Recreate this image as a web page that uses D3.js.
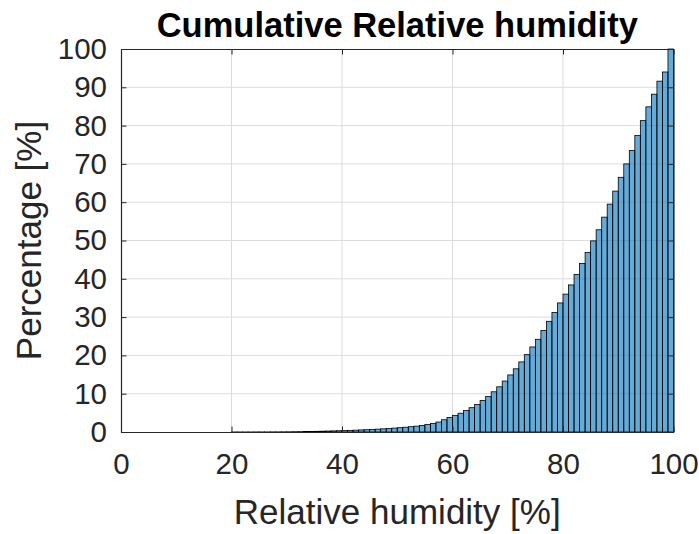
<!DOCTYPE html>
<html>
<head>
<meta charset="utf-8">
<script src="https://cdn.jsdelivr.net/npm/d3@7"></script>
<style>
  body { margin: 0; background: #fff; }
  text { font-family: "Liberation Sans", Arial, Helvetica, sans-serif; fill: #262626; }
</style>
</head>
<body>
<div id="chart"></div>
<script>
// cumulative histogram of relative humidity, one bin per percent
var binStart = d3.range(0, 100);   // left edge of each bin [%]
var cumPercent = [
  0, 0, 0, 0, 0, 0, 0, 0, 0, 0,
  0, 0, 0, 0, 0, 0, 0, 0, 0, 0,
  0.01, 0.01, 0.01, 0.01, 0.02, 0.02, 0.02, 0.03, 0.03, 0.04,
  0.05, 0.07, 0.09, 0.12, 0.15, 0.18, 0.21, 0.25, 0.29, 0.33,
  0.38, 0.43, 0.48, 0.54, 0.6, 0.67, 0.75, 0.83, 0.92, 1.02,
  1.13, 1.25, 1.38, 1.53, 1.7, 1.95, 2.2, 2.6, 3.2, 3.8,
  4.35, 4.9, 5.6, 6.35, 7.2, 8.2, 9.3, 10.5, 11.8, 13.3,
  14.9, 16.5, 18.3, 20.2, 22.2, 24.2, 26.5, 28.9, 31.2, 33.7,
  36.0, 38.4, 41.1, 44.0, 46.9, 49.9, 52.8, 56.1, 59.5, 62.9,
  66.5, 70.0, 73.5, 77.4, 81.3, 84.9, 88.2, 91.6, 94.0, 100
];
var xTicks = [0, 20, 40, 60, 80, 100];
var yTicks = d3.range(0, 101, 10);

var width = 699,
    height = 534;
var margin = {top: 49, right: 25.5, bottom: 102, left: 121};
var w = width - margin.left - margin.right,
    h = height - margin.top - margin.bottom;

var svg = d3.select("#chart").append("svg")
    .attr("width", width)
    .attr("height", height);

var g = svg.append("g")
    .attr("transform", "translate(" + margin.left + "," + margin.top + ")");

var x = d3.scaleLinear().domain([0, 100]).range([0, w]);
var y = d3.scaleLinear().domain([0, 100]).range([h, 0]);

// grid (under the bars, bars are semi transparent)
g.selectAll(".gx")
    .data(xTicks.slice(1, -1))
    .enter().append("line")
    .attr("x1", d => x(d)).attr("x2", d => x(d))
    .attr("y1", 0).attr("y2", h)
    .attr("stroke", "#dcdcdc").attr("stroke-width", 1);
g.selectAll(".gy")
    .data(yTicks.slice(1, -1))
    .enter().append("line")
    .attr("x1", 0).attr("x2", w)
    .attr("y1", d => y(d)).attr("y2", d => y(d))
    .attr("stroke", "#dcdcdc").attr("stroke-width", 1);

// bars
g.selectAll("rect.bar")
    .data(binStart)
    .enter().append("rect")
    .attr("class", "bar")
    .attr("x", d => x(d))
    .attr("width", d => x(d + 1) - x(d))
    .attr("y", (d, i) => y(cumPercent[i]))
    .attr("height", (d, i) => h - y(cumPercent[i]))
    .attr("fill", "#0072bd")
    .attr("fill-opacity", 0.6)
    .attr("stroke", "#000")
    .attr("stroke-width", 0.8);

// axes (inward ticks, box on)
var tickLen = 5.5;
var xAxis = g.append("g").attr("transform", "translate(0," + h + ")")
    .call(d3.axisBottom(x).tickValues(xTicks).tickSizeInner(-tickLen).tickSizeOuter(0).tickPadding(21));
var yAxis = g.append("g")
    .call(d3.axisLeft(y).tickValues(yTicks).tickSizeInner(-tickLen).tickSizeOuter(0).tickPadding(14));
g.append("g")
    .call(d3.axisTop(x).tickValues(xTicks).tickSizeInner(-tickLen).tickSizeOuter(0).tickFormat(""));
g.append("g").attr("transform", "translate(" + w + ",0)")
    .call(d3.axisRight(y).tickValues(yTicks).tickSizeInner(-tickLen).tickSizeOuter(0).tickFormat(""));

g.selectAll(".domain").attr("stroke", "#262626").attr("stroke-width", 1.2);
g.selectAll(".tick line").attr("stroke", "#262626");
g.selectAll(".tick text")
    .style("font-family", "'Liberation Sans', Arial, sans-serif")
    .style("font-size", "29.5px")
    .attr("fill", "#262626");
xAxis.selectAll(".tick text").attr("dy", "0.71em");

// labels
svg.append("text")
    .attr("x", margin.left + w / 2)
    .attr("y", 37)
    .attr("text-anchor", "middle")
    .style("font-size", "34.5px")
    .style("font-weight", "bold")
    .style("fill", "#000")
    .text("Cumulative Relative humidity");

svg.append("text")
    .attr("x", margin.left + w / 2)
    .attr("y", 524)
    .attr("text-anchor", "middle")
    .style("font-size", "35px")
    .text("Relative humidity [%]");

svg.append("text")
    .attr("transform", "translate(41," + (margin.top + h / 2) + ") rotate(-90)")
    .attr("text-anchor", "middle")
    .style("font-size", "35px")
    .text("Percentage [%]");
</script>
</body>
</html>
